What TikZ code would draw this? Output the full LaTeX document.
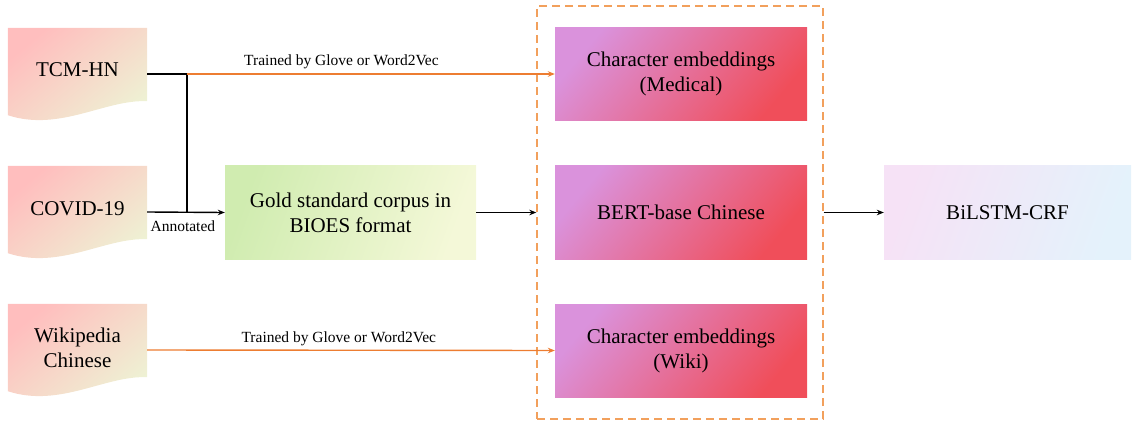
\documentclass[tikz,border=0pt]{standalone}
\usepackage{fontspec}
\setmainfont{Liberation Serif}
\usetikzlibrary{arrows.meta,backgrounds}
\definecolor{orng}{RGB}{237,125,49}
\definecolor{dashorng}{RGB}{242,160,92}
\definecolor{docA}{RGB}{255,190,190}
\definecolor{docB}{RGB}{238,242,212}
\definecolor{goldA}{RGB}{208,236,176}
\definecolor{goldB}{RGB}{244,248,216}
\definecolor{cemA}{RGB}{218,146,220}
\definecolor{cemB}{RGB}{232,100,168}
\definecolor{cemC}{RGB}{240,78,90}
\definecolor{biA}{RGB}{246,226,246}
\definecolor{biB}{RGB}{228,242,251}
\begin{document}
\begin{tikzpicture}[x=1pt,y=1pt,
  main/.style={font=\fontsize{21}{25}\selectfont, align=center, inner sep=0pt},
  lbl/.style={font=\fontsize{15.5}{18}\selectfont, inner sep=2pt, text=black},
  docnode/.style={main, minimum width=139pt, minimum height=92pt},
  boxnode/.style={main, minimum width=252pt, minimum height=93pt},
  docshade/.style={top color=docA, bottom color=docB, shading angle=40},
  goldshade/.style={top color=goldA, bottom color=goldB, shading angle=70},
  cemshade/.style={top color=cemA, middle color=cemB, bottom color=cemC, shading angle=50},
  bishade/.style={top color=biA, bottom color=biB, shading angle=70},
  blk/.style={line width=1.4pt, black},
  org/.style={line width=1.4pt, orng},
  tip/.style={-{Stealth[length=7pt,width=5.5pt]}},
]
\useasboundingbox (0,0) rectangle (1132,421);

% sources (documents)
\node[docnode] (tcm) at (77.5,347) {\raisebox{8pt}{TCM-HN}};
\node[docnode] (covid) at (77.5,209) {\raisebox{7.5pt}{COVID-19}};
\node[docnode] (wiki) at (77.5,71) {\raisebox{2pt}{\begin{tabular}{@{}c@{}}Wikipedia\\Chinese\end{tabular}}};

\begin{scope}[on background layer]
\foreach \n in {tcm,covid,wiki}
  \path[docshade] (\n.north west) -- (\n.north east) -- ([yshift=19pt]\n.south east)
    .. controls ([xshift=-42pt,yshift=21pt]\n.south east) and ([xshift=52pt,yshift=-12pt]\n.south west)
    .. ([yshift=5pt]\n.south west) -- cycle;
\end{scope}

% gold corpus
\node[main, minimum width=251pt, minimum height=93pt, goldshade] (gold) at (350.5,208.5)
  {Gold standard corpus in\\BIOES format};

% embeddings group
\node[boxnode, cemshade] (cem1) at (681,347) {\raisebox{-3pt}{\begin{tabular}{@{}c@{}}Character embeddings\\(Medical)\end{tabular}}};
\node[boxnode, cemshade] (bert) at (681,208.5) {BERT-base Chinese};
\node[boxnode, cemshade] (cem2) at (681,70.5) {\raisebox{-3pt}{\begin{tabular}{@{}c@{}}Character embeddings\\(Wiki)\end{tabular}}};
\node[draw=dashorng, line width=1.4pt, dash pattern=on 8pt off 5pt,
      minimum width=286pt, minimum height=413pt, inner sep=0pt] (grp) at (680,208.5) {};

% output
\node[main, minimum width=247pt, minimum height=93pt, bishade] (bi) at (1007.5,208.5) {BiLSTM-CRF};

% connectors
\coordinate (j1) at (187,347);
\draw[blk] (tcm.east) -- (j1) -- (j1 |- gold.west);
\draw[org, tip] (j1) -- (cem1.west)
  node[lbl, above, pos=0.42, yshift=2pt] {Trained by Glove or Word2Vec};
\draw[blk, tip] (covid.east) -- (gold.west)
  node[lbl, below, pos=0.46, yshift=-6pt] {Annotated};
\draw[blk, tip] (gold.east) -- (grp.west);
\draw[blk, tip] (grp.east) -- (bi.west);
\draw[org, tip] (wiki.east) -- (cem2.west)
  node[lbl, above, pos=0.47, yshift=2pt] {Trained by Glove or Word2Vec};
\end{tikzpicture}
\end{document}
